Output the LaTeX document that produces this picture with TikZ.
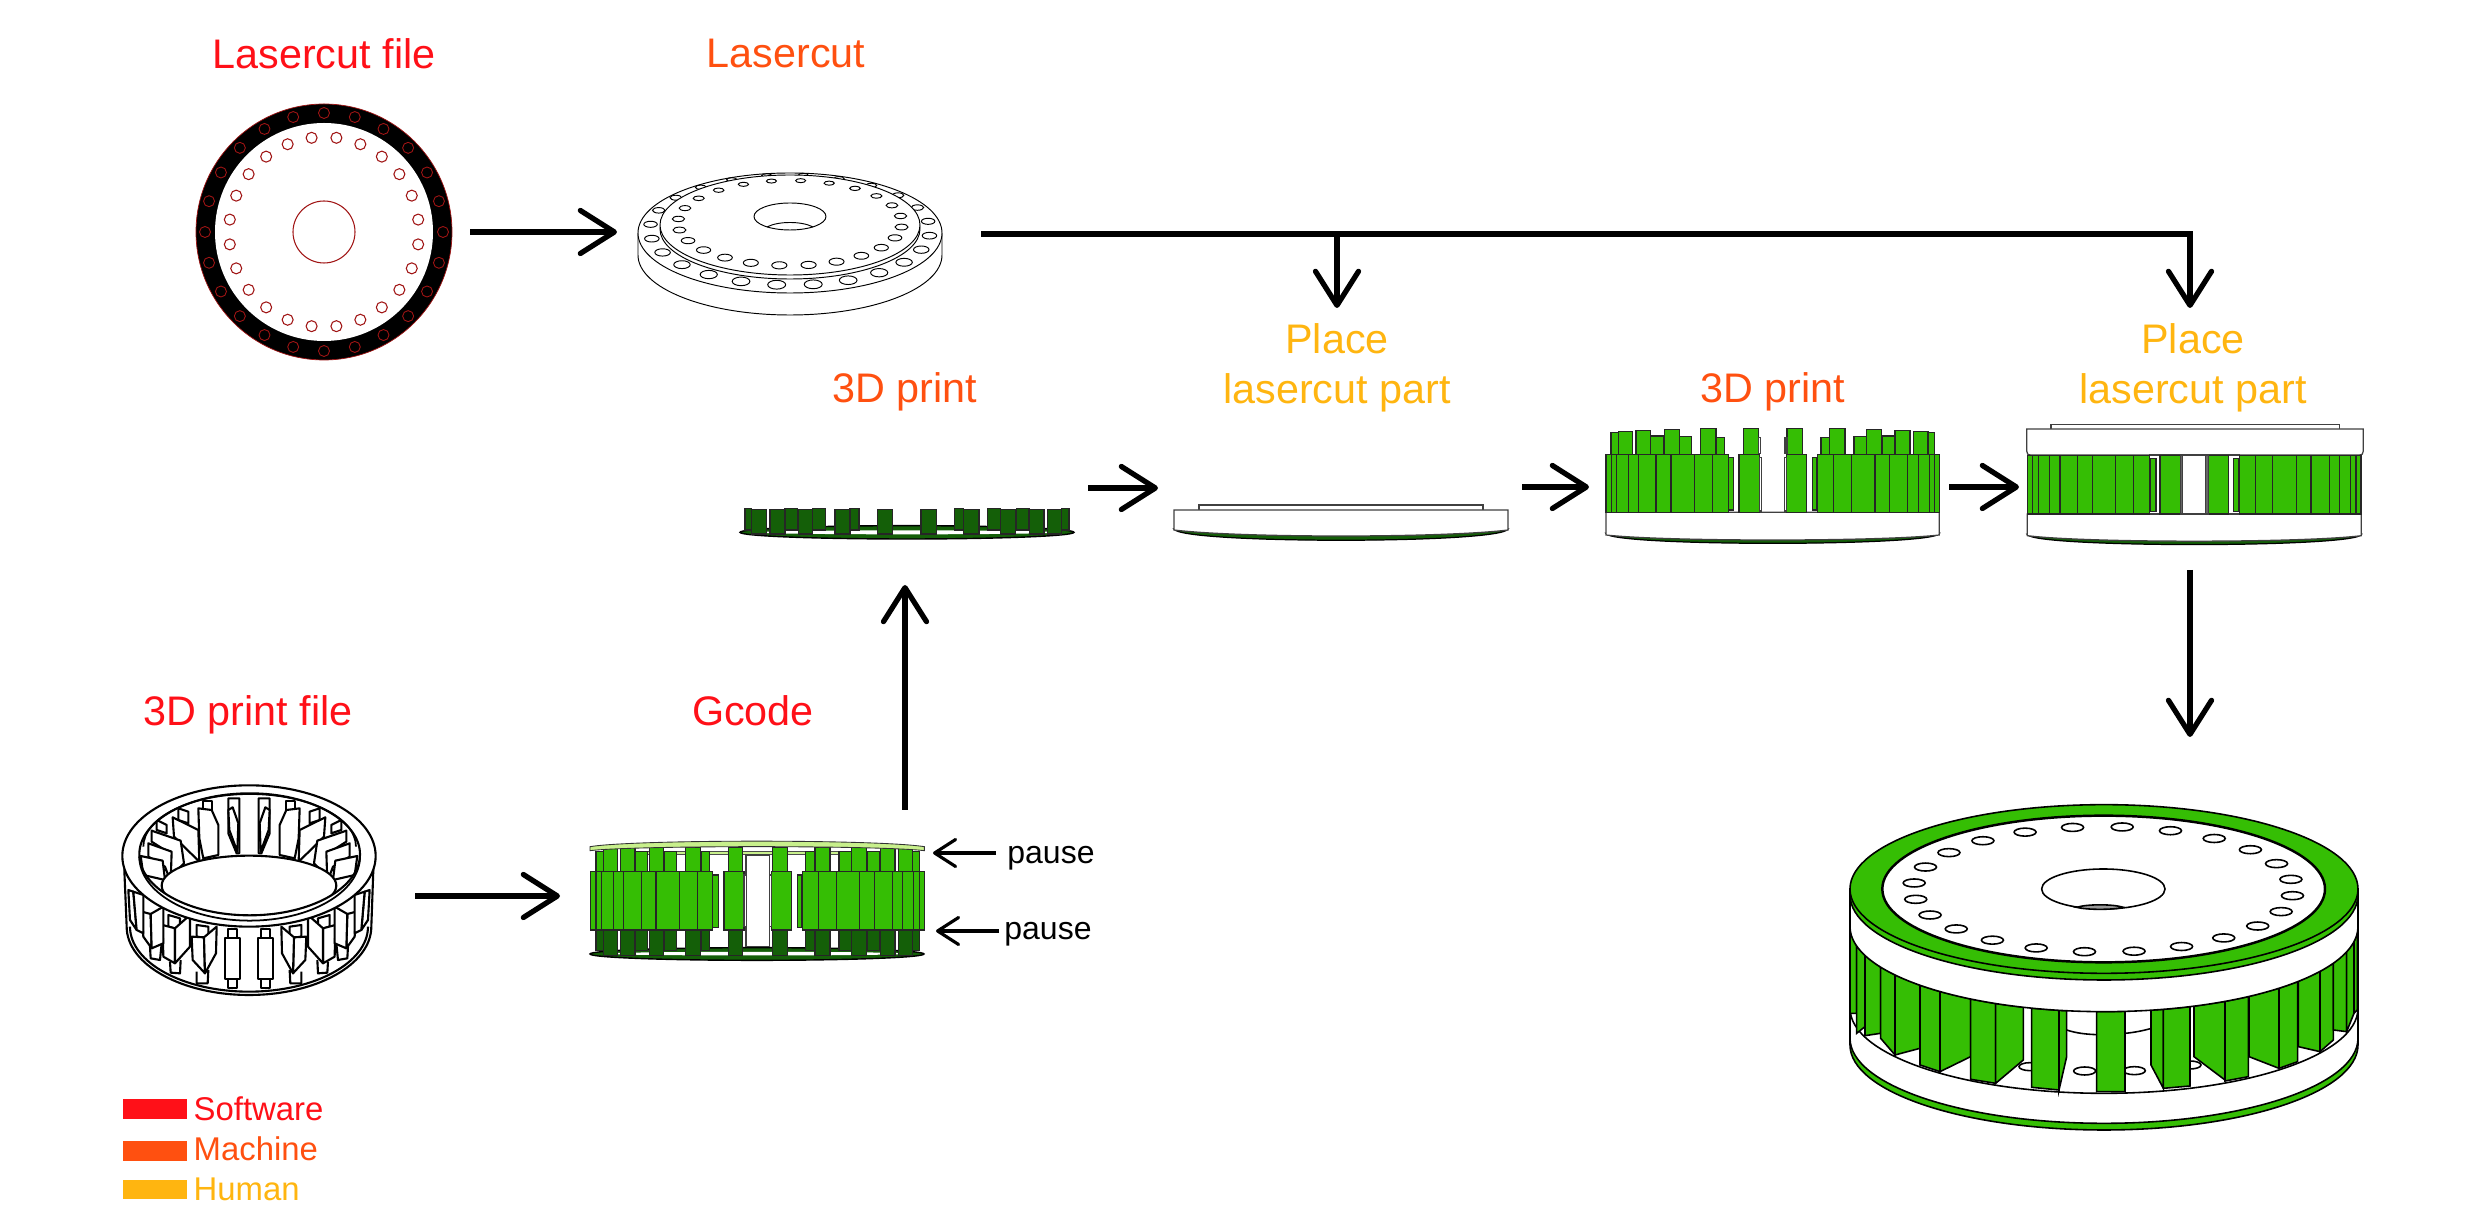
\documentclass[tikz,border=0pt]{standalone}
\usepackage{fontspec}
\setmainfont{Liberation Sans}
\usetikzlibrary{arrows.meta}
\definecolor{softwarered}{HTML}{FF1018}
\definecolor{machineorange}{HTML}{FF5010}
\definecolor{humanyellow}{HTML}{FFB510}
\definecolor{printgreen}{HTML}{35BE04}
\definecolor{firstgreen}{HTML}{145F08}
\definecolor{lastgreen}{HTML}{C8F08C}
\definecolor{cutred}{HTML}{A01414}
\begin{document}
\begin{tikzpicture}[x=0.01cm, y=-0.01cm,
    steplabel/.style={font=\fontsize{11.75}{14.3}\selectfont, align=center, inner sep=0pt},
    legendbar/.style={minimum width=0.64cm, minimum height=0.19cm, inner sep=0pt},
    legendlabel/.style={font=\fontsize{9.35}{11}\selectfont, anchor=base west, inner sep=0pt},
    flow/.style={-{Straight Barb[length=0.34cm, width=0.43cm, round]}, line width=1.5pt},
    pausearrow/.style={-{Straight Barb[length=0.21cm, width=0.27cm, round]}, line width=0.9pt},
    zoomed/.style={scale=0.33333},
    cutline/.style={draw=black, line width=0.27pt},
    fin/.style={draw=black, fill=white, line width=0.6pt, line join=round},
    printbar/.style={draw=black!85, fill=printgreen, line width=0.4pt},
    firstbar/.style={draw=black!85, fill=firstgreen, line width=0.4pt},
    plainpart/.style={draw=black!75, fill=white, line width=0.35pt},
    bigline/.style={draw=black, line width=0.45pt},
    declare function={rimtop(\t)=380+255*sqrt(abs(1-((\t-762)/762)*((\t-762)/762)));}]

    \useasboundingbox (0,0) rectangle (2480,1228);

    % labels
    \node[steplabel, anchor=base, text=softwarered] (cutfile) at (324,69) {Lasercut file};
    \node[steplabel, anchor=base, text=machineorange] (cutdone) at (786,68) {Lasercut};
    \node[steplabel, anchor=base, text=machineorange] (printa) at (905,403) {3D print};
    \node[steplabel, text=humanyellow] (placea) at (1337,368) {Place\\lasercut part};
    \node[steplabel, anchor=base, text=machineorange] (printb) at (1773,403) {3D print};
    \node[steplabel, text=humanyellow] (placeb) at (2193,368) {Place\\lasercut part};
    \node[steplabel, anchor=base, text=softwarered] (printfile) at (248,726) {3D print file};
    \node[steplabel, anchor=base, text=softwarered] (gcode) at (753,726) {Gcode};
    \node[font=\fontsize{9.1}{11}\selectfont, inner sep=0pt] (pausea) at (1051,858) {pause};
    \node[font=\fontsize{9.1}{11}\selectfont, inner sep=0pt] (pauseb) at (1048,934) {pause};

    % legend
    \node[legendbar, fill=softwarered] (softwarebar) at (155,1109) {};
    \node[legendbar, fill=machineorange] (machinebar) at (155,1151) {};
    \node[legendbar, fill=humanyellow] (humanbar) at (155,1189.5) {};
    \node[legendlabel, text=softwarered] (softwaretext) at (193,1121) {Software};
    \node[legendlabel, text=machineorange] (machinetext) at (193,1161) {Machine};
    \node[legendlabel, text=humanyellow] (humantext) at (193,1201) {Human};

    % lasercut file
    \begin{scope}[shift={(324,232)}]
        \draw[cutred, fill=black, line width=0.2pt] (0,0) circle[radius=128];
        \fill[white] (0,0) circle[radius=109];
        \draw[cutred, line width=0.3pt] (0,0) circle[radius=31];
        \foreach \a in {0,15,...,345} {
            \draw[cutred, line width=0.25pt] (\a:119) circle[radius=5.5];
            \draw[cutred, line width=0.3pt] (\a+7.5:95) circle[radius=5.5];
        }
    \end{scope}

    % lasercut part
    \draw[cutline, fill=white] (638,233) -- (638,255) arc[start angle=180, end angle=0, x radius=152, y radius=60] -- (942,233);
    \draw[cutline, fill=white] (790,233) ellipse[x radius=152, y radius=60];
    \foreach \a in {0,15,...,345} {
        \draw[cutline] ({790+140*cos(\a+7.5)-5*sin(\a+7.5)},{230-55*sin(\a+7.5)-1.5*cos(\a+7.5)})
            ellipse[x radius={7-2*sin(\a+7.5)}, y radius={3.2-1.2*sin(\a+7.5)}];
    }
    \draw[cutline, fill=white] (790,229) ellipse[x radius=130, y radius=50];
    \draw[cutline, fill=white] (790,225) ellipse[x radius=130, y radius=50];
    \foreach \a in {0,15,...,345} {
        \draw[cutline] ({790+112*cos(\a+7.5)-4*sin(\a+7.5)},{223-42.5*sin(\a+7.5)-1.5*cos(\a+7.5)})
            ellipse[x radius={6.3-1.3*sin(\a+7.5)}, y radius={2.8-0.8*sin(\a+7.5)}];
    }
    \draw[cutline] (790,216.5) ellipse[x radius=36, y radius=13.5];
    \draw[cutline] (767,227) .. controls (778,221) and (802,221) .. (813,227);

    % first print
    \begin{scope}[shift={(735,495)}, zoomed]
        \fill[firstgreen, draw=black] (516,112) ellipse[x radius=501, y radius=20];
        \fill[white] (516,112) ellipse[x radius=450, y radius=6];
        \foreach \xa/\xb in {30/50,148/188,233/272,345/372,658/686,758/797,845/882,980/1002}
            \draw[firstbar] (\xa,40) rectangle (\xb,105);
        \foreach \xa/\xb in {50/95,105/150,190/233,300/345,427/472,558/605,686/732,797/842,883/927,937/980}
            \draw[firstbar] (\xa,43) rectangle (\xb,117);
    \end{scope}

    % lasercut part placed
    \fill[firstgreen, draw=black, line width=0.35pt] (1174,529) .. controls (1180,544) and (1502,544) .. (1508,529) -- cycle;
    \draw[plainpart] (1199,510) -- (1199,505) -- (1483,505) -- (1483,510);
    \draw[plainpart] (1174,510) -- (1174,530) .. controls (1240,538) and (1442,538) .. (1508,530) -- (1508,510) -- cycle;

    % second print
    \begin{scope}[shift={(1600,420)}, zoomed]
        \fill[firstgreen, draw=black, line width=0.35pt] (18,340) .. controls (25,380) and (1011,380) .. (1018,340) -- cycle;
        \draw[plainpart] (18,277) -- (18,345) .. controls (200,365) and (836,365) .. (1018,345) -- (1018,277) -- cycle;
        \foreach \xa/\xb/\ytop in {33/55/38,55/97/35,108/152/32,152/190/48,193/238/28,238/275/50,302/348/26,348/374/52,430/476/25,561/607/25,663/689/52,689/735/26,762/800/50,800/845/28,847/885/48,885/930/32,940/984/35,984/1004/38}
            \draw[printbar] (\xa,\ytop) rectangle (\xb,105);
        \foreach \xa/\xb in {476/482,555/561}
            \draw[plainpart] (\xa,52) rectangle (\xb,100);
        \foreach \xa/\xb in {18/35,35/50,50/85,85/115,115/168,168/213,213/283,283/337,337/385,417/478,560/620,653/700,700/755,755/825,825/868,868/922,922/955,955/988,988/1003,1003/1018}
            \draw[printbar] (\xa,103) rectangle (\xb,277);
        \foreach \xa/\xb in {385/400,637/650}
            \draw[printbar] (\xa,112) rectangle (\xb,270);
        \foreach \xa/\xb in {478/485,553/560}
            \draw[plainpart] (\xa,112) rectangle (\xb,273);
    \end{scope}

    % second part placed
    \begin{scope}[shift={(2020,420)}, zoomed]
        \fill[firstgreen, draw=black, line width=0.35pt] (22,343) .. controls (30,384) and (1016,384) .. (1024,343) -- cycle;
        \draw[plainpart] (22,282) -- (22,347) .. controls (200,369) and (846,369) .. (1024,347) -- (1024,282) -- cycle;
        \draw[plainpart] (93,27) -- (93,14) -- (958,14) -- (958,27);
        \draw[plainpart] (20,27) -- (20,93) .. controls (20,102) and (24,105) .. (34,105) -- (1016,105) .. controls (1026,105) and (1030,102) .. (1030,93) -- (1030,27) -- cycle;
        \draw[plainpart] (388,105) rectangle (658,282);
        \foreach \xa/\xb in {23/38,38/55,55/88,88/120,120/173,173/217,217/287,287/341,341/388,420/482,565/625,658/706,706/757,757/830,830/873,873/928,928/958,958/992,992/1008,1008/1023}
            \draw[printbar] (\xa,107) rectangle (\xb,282);
        \foreach \xa/\xb in {391/408,641/657}
            \draw[printbar] (\xa,115) rectangle (\xb,275);
        \foreach \xa/\xb in {482/488,557/565}
            \draw[plainpart, fill=black!60] (\xa,107) rectangle (\xb,282);
    \end{scope}

    % gcode preview
    \begin{scope}[shift={(585,830)}, zoomed]
        \fill[firstgreen, draw=black] (516,372) ellipse[x radius=501, y radius=19];
        \fill[white] (516,371) ellipse[x radius=450, y radius=5.5];
        \fill[lastgreen, draw=black!70, line width=0.25pt] (150,65) rectangle (920,74);
        \draw[plainpart] (483,75) rectangle (553,350);
        \foreach \xa/\xb in {33/55,152/188,238/274,348/374,662/688,762/800,848/884,982/1004} {
            \draw[printbar] (\xa,65) rectangle (\xb,125);
            \draw[firstbar] (\xa,300) rectangle (\xb,362);
        }
        \foreach \xa/\xb in {55/97,107/150,193/236,302/347,430/473,562/607,690/735,800/845,886/930,940/982} {
            \draw[printbar] (\xa,52) rectangle (\xb,125);
            \draw[firstbar] (\xa,300) rectangle (\xb,376);
        }
        \foreach \xa/\xb in {17/33,33/50,50/85,85/115,115/170,170/213,213/283,283/337,337/383,417/477,560/620,652/700,700/755,755/823,823/868,868/922,922/952,952/985,985/1003,1003/1018}
            \draw[printbar] (\xa,125) rectangle (\xb,300);
        \foreach \xa/\xb in {383/400,637/650}
            \draw[printbar] (\xa,135) rectangle (\xb,292);
        \foreach \xa/\xb in {477/485,553/560}
            \draw[plainpart] (\xa,135) rectangle (\xb,290);
        \fill[lastgreen, draw=black!80, line width=0.25pt] (15,50) .. controls (150,28) and (880,28) .. (1018,50) -- (1018,62) .. controls (880,46) and (150,46) .. (15,62) -- cycle;
    \end{scope}

    % print file
    \begin{scope}[shift={(80,730)}, zoomed]
        \draw[fin] (133,420) -- (140,590) arc[start angle=180, end angle=0, x radius=367, y radius=205] -- (880,420) -- cycle;
        \draw[fin] (150,590) arc[start angle=180, end angle=0, x radius=357, y radius=195];
        \foreach \o/\m in {0/1,1014/-1} {
            \begin{scope}[shift={(\o,0)}, xscale=\m]
                \draw[fin] (445,740) -- (445,775) -- (470,775) -- (470,740);
                \draw[fin] (445,597) rectangle (470,630);
                \draw[fin] (435,625) rectangle (480,748);
                \draw[fin] (350,725) -- (350,760) -- (383,760) -- (385,720);
                \draw[fin] (350,585) -- (385,590) -- (385,625) -- (350,620) -- cycle;
                \draw[fin] (335,620) -- (372,622) -- (375,730) -- (338,690) -- cycle;
                \draw[fin] (372,622) -- (410,590) -- (408,670) -- (375,730) -- cycle;
                \draw[fin] (270,695) -- (272,728) -- (300,730) -- (302,690);
                \draw[fin] (265,555) -- (300,565) -- (300,600) -- (265,590) -- cycle;
                \draw[fin] (248,585) -- (285,595) -- (285,700) -- (250,680) -- cycle;
                \draw[fin] (285,595) -- (330,555) -- (330,650) -- (285,700) -- cycle;
                \draw[fin] (210,650) -- (212,685) -- (240,690) -- (245,640);
                \draw[fin] (185,545) -- (212,552) -- (215,655) -- (190,620) -- cycle;
                \draw[fin] (212,552) -- (250,530) -- (250,640) -- (215,655) -- cycle;
                \draw[fin] (145,480) -- (160,485) -- (170,600) -- (150,570) -- cycle;
                \draw[fin] (160,485) -- (190,495) -- (190,610) -- (170,600) -- cycle;
                % inner side
                \draw[fin] (445,205) -- (445,310) -- (470,370) -- (478,370) -- (478,205) -- cycle;
                \draw[fin] (445,240) -- (458,232) -- (475,280) -- (472,365) -- (448,300) -- cycle;
                \draw[fin] (368,212) -- (395,212) -- (395,240) -- (368,240) -- cycle;
                \draw[fin] (355,235) -- (395,240) -- (415,285) -- (415,375) -- (370,385) -- (358,325) -- cycle;
                \draw[fin] (295,235) -- (325,245) -- (325,280) -- (295,270) -- cycle;
                \draw[fin] (278,262) -- (355,300) -- (358,395) -- (312,350) -- (282,320) -- cycle;
                \draw[fin] (230,270) -- (260,285) -- (260,310) -- (230,300) -- cycle;
                \draw[fin] (215,302) -- (302,332) -- (312,400) -- (272,440) -- (262,365) -- (215,335) -- cycle;
                \draw[fin] (205,340) -- (275,365) -- (272,455) -- (255,410) -- (205,380) -- cycle;
                \draw[fin] (182,378) -- (248,392) -- (255,450) -- (190,435) -- cycle;
            \end{scope}
        }
        \draw[fin] (507,467) ellipse[x radius=262, y radius=90];
        \draw[fin, even odd rule] (507,378) ellipse[x radius=380, y radius=212] (509,373) ellipse[x radius=331, y radius=183];
        \draw[line width=0.5pt] (178,380) arc[start angle=180, end angle=0, x radius=331, y radius=192];
        \draw[line width=0.5pt] (190,350) arc[start angle=180, end angle=360, x radius=319, y radius=158];
    \end{scope}

    % finished part
    \begin{scope}[shift={(1850,800)}, zoomed]
        \draw[bigline] (0,270) -- (0,735) (1524,270) -- (1524,735);
        \draw[bigline, fill=printgreen] (0,735) arc[start angle=180, end angle=0, x radius=762, y radius=255] -- (1524,715) -- (0,715) -- cycle;
        \fill[white] (0,625) -- (0,715) arc[start angle=180, end angle=0, x radius=762, y radius=255] -- (1524,625) -- cycle;
        \draw[bigline] (0,715) arc[start angle=180, end angle=0, x radius=762, y radius=255];
        \draw[bigline] (0,735) -- (0,270) (1524,735) -- (1524,270);
        \draw[bigline] (0,625) arc[start angle=180, end angle=0, x radius=762, y radius=255];
        \draw[bigline] (650,690) .. controls (680,700) and (710,703) .. (742,704);
        \draw[bigline] (825,700) .. controls (850,698) and (880,692) .. (905,685);
        \foreach \hx/\hy in {704/813,853/812,540/800,1020/795}
            \draw[bigline, fill=white] (\hx,\hy) ellipse[x radius=33, y radius=12];
        \foreach \xa/\xb/\ya/\yb in {0/20/640/640,20/45/700/680,45/92/707/700,92/135/715/765,135/210/765/745,210/270/795/815,270/362/815/770,362/437/838/850,437/520/850/780,545/627/862/870,627/650/870/770,740/825/875/875,903/940/795/865,940/1020/865/858,1032/1125/770/840,1125/1195/843/830,1197/1287/770/805,1287/1343/805/785,1345/1410/740/755,1410/1450/755/720,1450/1490/690/695,1490/1512/695/640,1512/1522/640/630}
            \draw[bigline, fill=printgreen] (\xa,{rimtop(\xa)}) -- (\xa,\ya) -- (\xb,\yb) -- (\xb,{rimtop(\xb)}) -- cycle;
        \fill[white] (0,285) -- (0,380) arc[start angle=180, end angle=0, x radius=762, y radius=255] -- (1524,285) -- cycle;
        \draw[bigline] (0,380) arc[start angle=180, end angle=0, x radius=762, y radius=255];
        \draw[bigline] (0,270) -- (0,380) (1524,270) -- (1524,380);
        \draw[bigline, fill=printgreen] (0,285) arc[start angle=180, end angle=0, x radius=762, y radius=255] -- (1524,267) -- (0,267) -- cycle;
        \draw[bigline, fill=printgreen] (762,267) ellipse[x radius=762, y radius=253];
        \draw[bigline, fill=white, line width=0.7pt] (761,267) ellipse[x radius=664, y radius=220];
        \foreach \a in {0,15,...,345}
            \draw[bigline] ({760+570*cos(\a+7.5)-18*sin(\a+7.5)},{268-188*sin(\a+7.5)-5.5*cos(\a+7.5)}) ellipse[x radius=33, y radius=12];
        \draw[bigline] (760,267) ellipse[x radius=185, y radius=60];
        \draw[bigline, fill=black!40] (680,322) .. controls (710,312) and (790,312) .. (820,322) .. controls (790,330) and (710,330) .. (680,322) -- cycle;
    \end{scope}

    % connectors
    \coordinate (discout) at (470,232);
    \coordinate (partin) at (617,232);
    \coordinate (partout) at (981,234);
    \coordinate (placeaup) at (1337,308);
    \coordinate (placebup) at (2190,308);
    \coordinate (firstout) at (1088,488);
    \coordinate (placedin) at (1158,488);
    \coordinate (placedout) at (1522,487);
    \coordinate (secondin) at (1589,487);
    \coordinate (secondout) at (1949,487);
    \coordinate (closedin) at (2019,487);
    \coordinate (closedout) at (2190,570);
    \coordinate (finishin) at (2190,737);
    \coordinate (fileout) at (415,896);
    \coordinate (gcodein) at (560,896);
    \coordinate (gcodeout) at (905,810);
    \coordinate (firstin) at (905,585);
    \coordinate (lastlayer) at (933,853);
    \coordinate (firstlayer) at (936,931);
    \coordinate (pauseatail) at (996,853);
    \coordinate (pausebtail) at (999,931);

    \draw[flow] (discout) -- (partin);
    \draw[flow] (partout) -| (placebup);
    \draw[flow] (partout -| placeaup) -- (placeaup);
    \draw[flow] (firstout) -- (placedin);
    \draw[flow] (placedout) -- (secondin);
    \draw[flow] (secondout) -- (closedin);
    \draw[flow] (closedout) -- (finishin);
    \draw[flow] (fileout) -- (gcodein);
    \draw[flow] (gcodeout) -- (firstin);
    \draw[pausearrow] (pauseatail) -- (lastlayer);
    \draw[pausearrow] (pausebtail) -- (firstlayer);
\end{tikzpicture}
\end{document}
